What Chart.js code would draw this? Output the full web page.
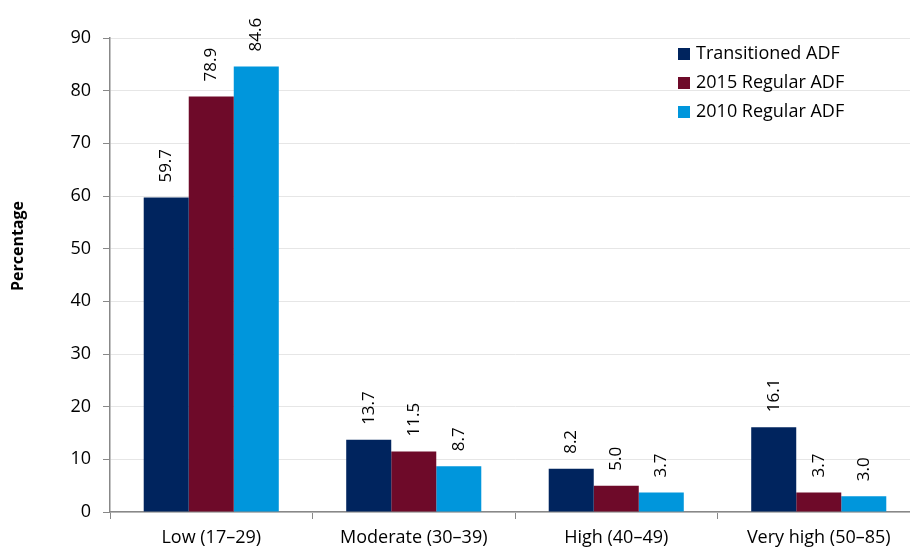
<!DOCTYPE html>
<html>
<head>
<meta charset="utf-8">
<script src="https://cdn.jsdelivr.net/npm/chart.js@4.4.0/dist/chart.umd.min.js"></script>
<style>
  html, body { margin: 0; padding: 0; background: #fff; overflow: hidden; }
  #wrap { position: relative; width: 920px; height: 560px; }
</style>
</head>
<body>
<div id="wrap"><canvas id="chart"></canvas></div>
<script>
const categories = ['Low (17–29)', 'Moderate (30–39)', 'High (40–49)', 'Very high (50–85)'];
const seriesNames = ['Transitioned ADF', '2015 Regular ADF', '2010 Regular ADF'];
const transitioned = [59.7, 13.7, 8.2, 16.1];
const regular2015 = [78.9, 11.5, 5.0, 3.7];
const regular2010 = [84.6, 8.7, 3.7, 3.0];
const yTicks = [0, 10, 20, 30, 40, 50, 60, 70, 80, 90];

const colors = ['#00245e', '#6e0a29', '#0096dc'];
const fontFamily = '"Open Sans", "Noto Sans", sans-serif';

Chart.defaults.font.family = fontFamily;
Chart.defaults.color = '#000000';

// rotated value labels above each bar, plus the y title
const barLabels = {
    id: 'barLabels',
    afterDatasetsDraw(chart) {
        const ctx = chart.ctx;
        ctx.save();
        ctx.font = '17px ' + fontFamily;
        ctx.fillStyle = '#000';
        ctx.textAlign = 'left';
        ctx.textBaseline = 'middle';
        chart.data.datasets.forEach((ds, i) => {
            chart.getDatasetMeta(i).data.forEach((bar, j) => {
                ctx.save();
                ctx.translate(bar.x, bar.y - 15);
                ctx.rotate(-Math.PI / 2);
                ctx.fillText(ds.data[j].toFixed(1), 0, 0);
                ctx.restore();
            });
        });
        // axis title
        ctx.font = 'bold 16px ' + fontFamily;
        ctx.textAlign = 'center';
        ctx.translate(18, 246);
        ctx.rotate(-Math.PI / 2);
        ctx.fillText('Percentage', 0, 0);
        ctx.restore();
    }
};

// legend drawn inside the plot, top right
const boxLegend = {
    id: 'boxLegend',
    afterDraw(chart) {
        const ctx = chart.ctx;
        ctx.save();
        ctx.font = '18px ' + fontFamily;
        ctx.textAlign = 'left';
        ctx.textBaseline = 'middle';
        chart.data.datasets.forEach((ds, i) => {
            var y = 54 + i * 29;
            ctx.fillStyle = ds.backgroundColor;
            ctx.fillRect(678, y - 6, 12, 12);
            ctx.fillStyle = '#000';
            ctx.fillText(ds.label, 696, y);
        });
        ctx.restore();
    }
};

new Chart(document.getElementById('chart'), {
    type: 'bar',
    data: {
        labels: categories,
        datasets: [
            { label: seriesNames[0], data: transitioned, backgroundColor: colors[0] },
            { label: seriesNames[1], data: regular2015, backgroundColor: colors[1] },
            { label: seriesNames[2], data: regular2010, backgroundColor: colors[2] }
        ]
    },
    options: {
        responsive: true,
        maintainAspectRatio: false,
        animation: false,
        layout: { padding: { top: 38, right: 0, left: 0, bottom: 0 } },
        datasets: { bar: { barPercentage: 1, categoryPercentage: 0.667 } },
        plugins: {
            legend: { display: false },
            tooltip: { enabled: false }
        },
        scales: {
            x: {
                grid: { drawOnChartArea: false, tickLength: 7, color: '#888888', offset: true },
                border: { color: '#888888', width: 1.5 },
                ticks: { font: { size: 18 }, padding: 8, maxRotation: 0 },
                afterFit(scale) { scale.height = 48; }
            },
            y: {
                min: 0,
                max: 90,
                afterBuildTicks(scale) { scale.ticks = yTicks.map(v => ({ value: v })); },
                grid: { color: '#e6e6e6', tickLength: 7, tickColor: '#888888' },
                border: { color: '#888888', width: 1.5 },
                ticks: { font: { size: 18 }, padding: 12 },
                afterFit(scale) { scale.width = 110; }
            }
        }
    },
    plugins: [barLabels, boxLegend]
});
</script>
</body>
</html>
